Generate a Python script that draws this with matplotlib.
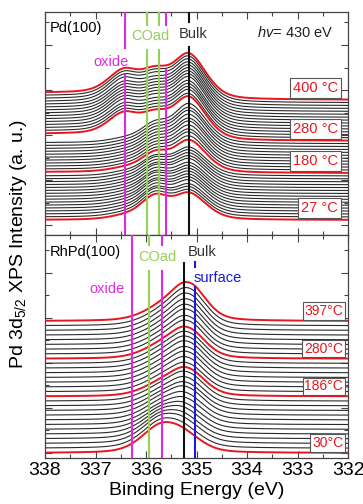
import numpy as np
import matplotlib.pyplot as plt

plt.rcParams['font.family'] = 'Liberation Sans'
plt.rcParams['mathtext.fontset'] = 'custom'
plt.rcParams['mathtext.rm'] = 'Liberation Sans'
plt.rcParams['mathtext.it'] = 'Liberation Sans:italic'

energy = np.linspace(332, 338, 601)

# Pd(100): intensity of each component per spectrum, 27 C (bottom) to 400 C (top)
pd_bulk = [25, 25, 25, 25, 26, 26, 26, 26, 26, 26, 26, 27, 27, 27, 27, 27,
           31, 32, 33, 33, 34, 35, 35, 36, 37, 37, 38,
           40, 40, 41, 41, 41, 41, 42, 42, 42, 42, 42, 42, 42, 42, 42]
pd_co = [23, 23, 23, 22, 22, 22, 21, 21, 21, 20, 20, 20, 19, 19, 19, 18,
         18, 18, 18, 18, 18, 18, 18, 18, 18, 18, 18,
         18, 18, 18, 18, 18, 19, 19, 19, 19, 19, 19, 19, 20, 20, 20]
pd_oxide = [3, 3, 3, 3, 3, 3, 3, 3, 3, 3, 3, 3, 3, 3, 3, 3,
            3, 3, 3, 3, 3, 3, 3, 3, 3, 3, 3,
            19, 19, 19, 19, 20, 20, 20, 20, 20, 20, 20, 21, 21, 21, 21]
pd_step = [0, 0, 0, 0, 0, 0, 0, 0, 0, 0, 0, 0, 0, 0, 0, 0,
           1, 1, 1, 1, 1, 1, 1, 1, 1, 1, 1,
           7, 7, 7, 7, 7, 7, 7, 7, 7, 7, 7, 7, 7, 7, 7]
pd_red = [0, 16, 27, 41]
pd_temps = ['27 °C', '180 °C', '280 °C', '400 °C']

# RhPd(100): 30 C (bottom) to 397 C (top)
rh_co = [27, 26, 25, 23, 21, 19, 17, 16, 15, 14, 13, 13, 12,
         12, 12, 12, 12, 12, 12, 12,
         12, 12, 12, 12, 12, 12, 12, 12, 12]
rh_bulk = [9, 10, 11, 12, 13, 14, 15, 16, 17, 17, 18, 18, 18,
           18, 19, 19, 19, 20, 20, 20,
           20, 21, 21, 22, 22, 22, 23, 23, 23]
rh_surf = [2, 2, 3, 3, 4, 4, 5, 5, 6, 6, 6, 7, 7,
           7, 7, 8, 8, 8, 8, 8,
           8, 9, 9, 10, 10, 11, 11, 12, 13]
rh_red = [0, 12, 20, 28]
rh_temps = ['30°C', '186°C', '280°C', '397°C']

# component binding energies (eV)
pd_lines = {'oxide': [336.41, 335.60], 'COad': [335.99, 335.75], 'Bulk': [335.14]}
rh_lines = {'oxide': [336.27, 335.68], 'COad': [335.94], 'Bulk': [335.25], 'surface': [335.03]}

MAG = '#e02ae0'
GRN = '#96cf5a'
RED = '#e8161e'
BLU = '#1a1ad8'


def peak(x, c, wl, wh, eta=0.35):
    w = np.where(x < c, wl, wh)
    u = (x - c) / w
    return (1 - eta) * np.exp(-np.log(2) * u ** 2) + eta / (1 + u ** 2)


def step(x, c=335.3, w=0.35):
    return 0.5 * (1 + np.tanh((x - c) / w))


fig = plt.figure(figsize=(3.63, 5.04), dpi=100)
ax1 = fig.add_axes([0.124, 0.5337, 0.835, 0.4425])
ax2 = fig.add_axes([0.124, 0.0913, 0.835, 0.4425])

# ---- top panel: Pd(100)
dy1 = 2.93
for i in range(len(pd_bulk)):
    y = (pd_bulk[i] * peak(energy, 335.14, 0.40, 0.34)
         + pd_co[i] * peak(energy, 335.82, 0.34, 0.34)
         + pd_oxide[i] * peak(energy, 336.45, 0.33, 0.36)
         + pd_step[i] * step(energy)) + i * dy1
    if i in pd_red:
        ax1.plot(energy, y, color=RED, lw=1.4, zorder=3)
    else:
        ax1.plot(energy, y, color='#2a2a2a', lw=0.8, zorder=2)

for idx, t in zip(pd_red, pd_temps):
    ax1.text(332.2, idx * dy1 + 12, t, color=RED, fontsize=10.5, ha='right', va='center',
             zorder=6, bbox=dict(boxstyle='square,pad=0.2', fc='white', ec='#555555', lw=0.8))

# vertical marker lines, split around their labels
segs1 = [(pd_lines['oxide'][0], MAG, [(0.839, 1.0), (0.0, 0.717)]),
         (pd_lines['COad'][0], GRN, [(0.942, 1.0), (0.0, 0.83)]),
         (pd_lines['COad'][1], GRN, [(0.942, 1.0), (0.0, 0.83)]),
         (pd_lines['oxide'][1], MAG, [(0.942, 1.0), (0.0, 0.74)]),
         (pd_lines['Bulk'][0], '#111111', [(0.955, 1.0), (0.0, 0.843)])]
for x, c, parts in segs1:
    for lo, hi in parts:
        ax1.axvline(x, lo, hi, color=c, lw=1.5, zorder=5)

ax1.text(0.017, 0.928, 'Pd(100)', transform=ax1.transAxes, fontsize=10.5, va='center')
ax1.text(0.95, 0.906, r'$\mathit{hv}$= 430 eV', transform=ax1.transAxes, fontsize=10.5,
         ha='right', va='center', color='#222222')
ax1.text(0.347, 0.892, 'COad', transform=ax1.transAxes, fontsize=10.5, ha='center',
         va='center', color=GRN)
ax1.text(0.488, 0.901, 'Bulk', transform=ax1.transAxes, fontsize=10.5, ha='center',
         va='center', color='#333333')
ax1.text(0.219, 0.776, 'oxide', transform=ax1.transAxes, fontsize=10.5, ha='center',
         va='center', color=MAG)

ax1.set_ylim(-15, 208)
ax1.set_yticks(np.arange(-5, 208, 45))
ax1.set_yticks(np.arange(17.5, 208, 45), minor=True)

# ---- bottom panel: RhPd(100)
dy2 = 4.71
for i in range(len(rh_bulk)):
    y = (rh_co[i] * peak(energy, 335.70, 0.48, 0.45)
         + rh_bulk[i] * peak(energy, 335.25, 0.42, 0.35)
         + rh_surf[i] * peak(energy, 335.03, 0.33, 0.33)) + i * dy2
    if i in rh_red:
        ax2.plot(energy, y, color=RED, lw=1.4, zorder=3)
    else:
        ax2.plot(energy, y, color='#2a2a2a', lw=0.8, zorder=2)

for idx, t in zip(rh_red, rh_temps):
    ax2.text(332.1, idx * dy2 + 10, t, color=RED, fontsize=10, ha='right', va='center',
             zorder=6, bbox=dict(boxstyle='square,pad=0.12', fc='white', ec='#555555', lw=0.8))

segs2 = [(rh_lines['oxide'][0], MAG, [(0.0, 1.0)]),
         (rh_lines['COad'][0], GRN, [(0.955, 1.0), (0.0, 0.839)]),
         (rh_lines['oxide'][1], MAG, [(0.955, 1.0), (0.0, 0.839)]),
         (rh_lines['Bulk'][0], '#111111', [(0.0, 0.874)]),
         (rh_lines['surface'][0], BLU, [(0.857, 0.879), (0.0, 0.767)])]
for x, c, parts in segs2:
    for lo, hi in parts:
        ax2.axvline(x, lo, hi, color=c, lw=1.5, zorder=5)

ax2.text(0.017, 0.924, 'RhPd(100)', transform=ax2.transAxes, fontsize=10.5, va='center')
ax2.text(0.37, 0.901, 'COad', transform=ax2.transAxes, fontsize=10.5, ha='center',
         va='center', color=GRN)
ax2.text(0.518, 0.924, 'Bulk', transform=ax2.transAxes, fontsize=10.5, ha='center',
         va='center', color='#333333')
ax2.text(0.569, 0.807, 'surface', transform=ax2.transAxes, fontsize=10.5, ha='center',
         va='center', color=BLU)
ax2.text(0.205, 0.758, 'oxide', transform=ax2.transAxes, fontsize=10.5, ha='center',
         va='center', color=MAG)

ax2.set_ylim(-5, 218)
ax2.set_yticks(np.arange(0, 218, 45))
ax2.set_yticks(np.arange(22.5, 218, 45), minor=True)

for ax in (ax1, ax2):
    ax.set_xlim(338, 332)
    ax.set_xticks(np.arange(332, 338.1, 1))
    ax.set_xticks(np.arange(332.5, 338, 1), minor=True)
    ax.tick_params(which='both', direction='in', top=True, right=True, width=0.8,
                   color='#444444')
    ax.tick_params(which='major', length=5)
    ax.tick_params(which='minor', length=3)
    ax.tick_params(axis='y', labelleft=False)
    for s in ax.spines.values():
        s.set_color('#444444')
        s.set_linewidth(0.9)

ax1.tick_params(axis='x', labelbottom=False)
ax2.tick_params(axis='x', labelsize=14, pad=3)
ax2.set_xticklabels(['332', '333', '334', '335', '336', '337', '338'])
ax2.set_xlabel('Binding Energy (eV)', fontsize=14, labelpad=2)

fig.text(0.05, 1 - 244 / 504, r'Pd 3d$_{5/2}$ XPS Intensity (a. u.)', rotation=90,
         fontsize=14, ha='center', va='center')

fig.savefig('out.png', dpi=100)
